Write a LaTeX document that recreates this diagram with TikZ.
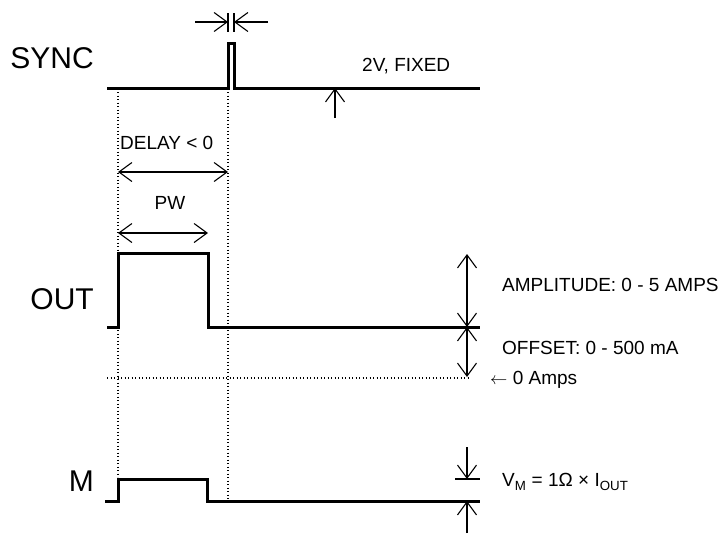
\documentclass[tikz,border=0pt]{standalone}
\usepackage{fontspec}
\setmainfont{Liberation Sans}
\usetikzlibrary{arrows.meta, positioning}
\tikzset{
    wave/.style={
        line width=3pt, line cap=butt, line join=miter
    },
    guide/.style={
        line width=1.4pt, dash pattern=on 1.4pt off 2.1pt
    },
    dimline/.style={
        line width=1.1pt,
        {Straight Barb[length=13pt, width=19pt]}-{Straight Barb[length=13pt, width=19pt]}
    },
    dimarrow/.style={
        line width=1.1pt, -{Straight Barb[length=13pt, width=19pt]}
    },
    barline/.style={
        line width=1.1pt
    },
    siglabel/.style={
        anchor=east, inner sep=0pt, text height=21.5pt, text depth=0pt,
        font=\fontsize{30}{34}\selectfont
    },
    note/.style={
        anchor=west, inner sep=0pt, text height=13.6pt, text depth=0pt,
        font=\fontsize{19}{22}\selectfont
    }
}

\begin{document}
\begin{tikzpicture}[x=1pt, y=-1pt]
    \useasboundingbox (0,0) rectangle (723,533);

    \coordinate (swL)   at (195,22);
    \coordinate (swA)   at (228,22);
    \coordinate (swB)   at (234,22);
    \coordinate (swR)   at (268,22);
    \coordinate (fixLo) at (335,118);
    \coordinate (fixHi) at (335,88);
    \coordinate (dlyL)  at (118,172);
    \coordinate (dlyR)  at (228,172);
    \coordinate (pwL)   at (118,233);
    \coordinate (pwR)   at (208,233);
    \coordinate (ampT)  at (467,254);
    \coordinate (ampM)  at (467,327);
    \coordinate (ampB)  at (467,377);
    \coordinate (vmT)   at (467,447);
    \coordinate (vmH)   at (467,479);
    \coordinate (vmL)   at (467,501);
    \coordinate (vmB)   at (467,533);

    % waveforms
    \draw[wave] (107,88) -- (228,88) -- (228,43) -- (234,43) -- (234,88) -- (480,88);
    \draw[wave] (107,327) -- (118,327) -- (118,253) -- (208,253) -- (208,327) -- (480,327);
    \draw[wave] (105,501) -- (118,501) -- (118,479) -- (207,479) -- (207,501) -- (480,501);

    \draw[guide] (118,92) -- (118,477);
    \draw[guide] (228,92) -- (228,499);
    \draw[guide] (107,378) -- (470,378);

    % dimensions
    \draw[barline] (228,13) -- (228,32);
    \draw[barline] (234,13) -- (234,32);
    \draw[dimarrow] (swL) -- (swA);
    \draw[dimarrow] (swR) -- (swB);
    \draw[dimarrow] (fixLo) -- (fixHi);
    \draw[dimline] (dlyL) -- (dlyR);
    \draw[dimline] (pwL) -- (pwR);
    \draw[dimline] (ampM) -- (ampT);
    \draw[dimline] (ampM) -- (ampB);
    \draw[barline] (455,479) -- (480,479);
    \draw[dimarrow] (vmT) -- (vmH);
    \draw[dimarrow] (vmB) -- (vmL);

    \node[siglabel] (sync) at (94,58)  {SYNC};
    \node[siglabel] (out)  at (94,299) {OUT};
    \node[siglabel] (mon)  at (94,481) {M};

    \node[note] (fixed)  at (362,65)  {2V, FIXED};
    \node[note] (delay)  at (120,143) {DELAY < 0};
    \node[note, anchor=center] (pw) at (170,203) {PW};
    \node[note] (amp)    at (502,285) {AMPLITUDE: 0 - 5 AMPS};
    \node[note] (offset) at (502,348) {OFFSET: 0 - 500 mA};
    \node[note] (zero)   at (490,378) {$\leftarrow$ 0 Amps};
    \node[note] (vm)     at (502,480) {V\textsubscript{M} = 1Ω × I\textsubscript{OUT}};

\end{tikzpicture}
\end{document}
